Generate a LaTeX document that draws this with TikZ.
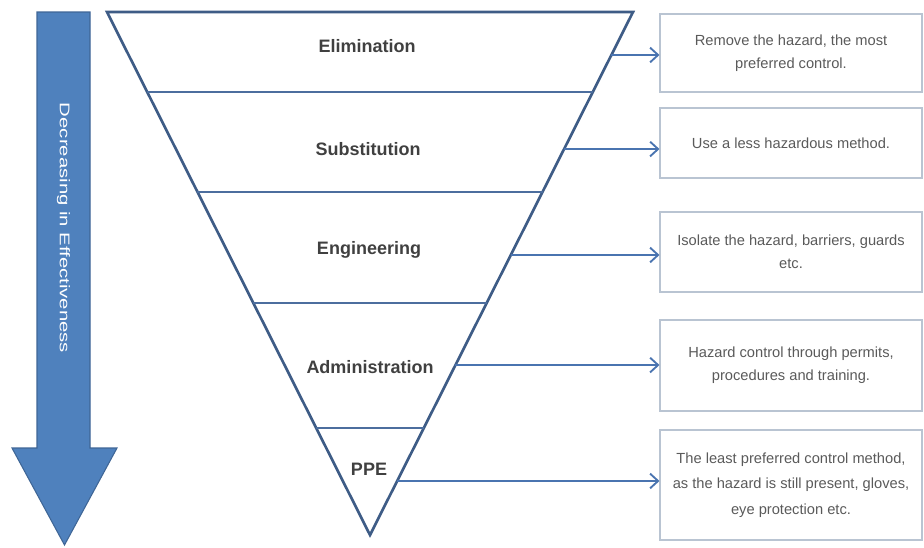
\documentclass[tikz,border=0pt]{standalone}
\usepackage{fontspec}
\setmainfont{Liberation Sans}
\usetikzlibrary{arrows.meta,calc}
\definecolor{tri}{HTML}{3E5C86}
\definecolor{divc}{HTML}{4C6E9E}
\definecolor{arrc}{HTML}{4A74B0}
\definecolor{boxc}{HTML}{B9C4D2}
\definecolor{bigfill}{HTML}{4F81BD}
\definecolor{bigdraw}{HTML}{3F6696}
\definecolor{lbl}{HTML}{404040}
\definecolor{txt}{HTML}{5A5A5A}
\tikzset{
  layerlabel/.style={font=\fontsize{13.5}{16}\selectfont\bfseries, text=lbl},
  descbox/.style={draw=boxc, line width=0.8pt, minimum width=262*0.75pt, align=center,
    font=\fontsize{11}{17}\selectfont, text=txt, inner sep=0pt},
  divider/.style={draw=divc, line width=1.5pt},
  pointer/.style={draw=arrc, line width=1.5pt, -{Straight Barb[length=6pt,width=11pt,line width=1.4pt]}},
}
\begin{document}
\begin{tikzpicture}[x=0.75pt,y=-0.75pt]
\useasboundingbox (0,0) rectangle (924,547);
% left big arrow
\path[fill=bigfill, draw=bigdraw, line width=0.8pt]
  (37,12) -- (90,12) -- (90,448) -- (117,448) -- (64.5,545) -- (12,448) -- (37,448) -- cycle;
\node[rotate=-90, text=white, font=\fontsize{10.5}{12}\selectfont] (eff) at (63.5,228)
  {\scalebox{1.45}[1]{Decreasing in Effectiveness}};
% triangle
\coordinate (TL) at (107,12);
\coordinate (TR) at (633,12);
\coordinate (AP) at (370,535);
\draw[tri, line width=2pt, line join=miter] (TL) -- (TR) -- (AP) -- cycle;
% dividers
\foreach \t/\n in {0.153/a,0.344/b,0.556/c,0.795/d}{
  \coordinate (L\n) at ($(TL)!\t!(AP)$);
  \coordinate (R\n) at ($(TR)!\t!(AP)$);
  \draw[divider] (L\n) -- (R\n);
}
% labels
\node[layerlabel] (elim) at (367,46) {Elimination};
\node[layerlabel] (subs) at (368,149) {Substitution};
\node[layerlabel] (engi) at (369,250) {Engineering};
\node[layerlabel] (admi) at (370,367) {Administration};
\node[layerlabel] (ppe) at (369,469) {PPE};
% boxes
\node[descbox, minimum height=78*0.75pt] (b1) at (791,53) {Remove the hazard, the most\\preferred control.};
\node[descbox, minimum height=70*0.75pt] (b2) at (791,143) {Use a less hazardous method.};
\node[descbox, minimum height=80*0.75pt] (b3) at (791,252) {Isolate the hazard, barriers, guards\\etc.};
\node[descbox, minimum height=91*0.75pt] (b4) at (791,365.5) {Hazard control through permits,\\procedures and training.};
\node[descbox, minimum height=110*0.75pt, font=\fontsize{11}{19}\selectfont] (b5) at (791,485) {The least preferred control method,\\as the hazard is still present, gloves,\\eye protection etc.};
% arrow starts on triangle edge
\coordinate (s1) at ($(TR)!0.0822!(AP)$);
\coordinate (s2) at ($(TR)!0.262!(AP)$);
\coordinate (s3) at ($(TR)!0.4646!(AP)$);
\coordinate (s4) at ($(TR)!0.675!(AP)$);
\coordinate (s5) at ($(TR)!0.8967!(AP)$);
\draw[pointer] (s1) -- (s1 -| b1.west);
\draw[pointer] (s2) -- (s2 -| b2.west);
\draw[pointer] (s3) -- (s3 -| b3.west);
\draw[pointer] (s4) -- (s4 -| b4.west);
\draw[pointer] (s5) -- (s5 -| b5.west);
\end{tikzpicture}
\end{document}
